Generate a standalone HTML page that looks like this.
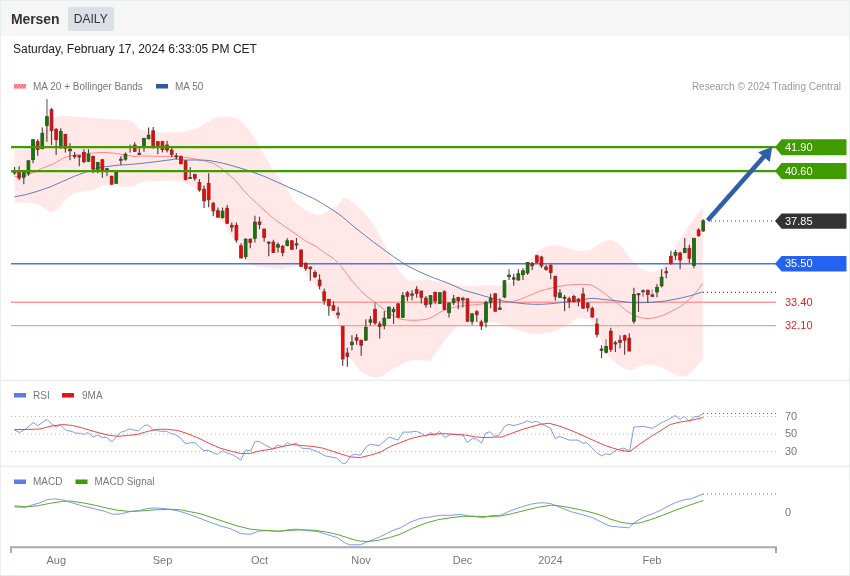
<!DOCTYPE html>
<html lang="en"><head><meta charset="utf-8"><title>Mersen - Daily</title>
<style>
html,body{margin:0;padding:0;background:#fff;}
body{width:850px;height:576px;overflow:hidden;position:relative;font-family:"Liberation Sans",Arial,sans-serif;}
.frame{position:absolute;left:0;top:0;width:848px;height:574px;border:1px solid #e9edf1;background:#fff;}
.header{position:absolute;left:1px;top:1px;width:848px;height:35px;background:#f6f6f6;}
.title{position:absolute;left:11px;top:11px;font-size:14px;font-weight:bold;color:#333;line-height:17px;letter-spacing:-0.1px;}
.badge{position:absolute;left:68px;top:7px;width:45.5px;height:24px;background:#dcdfe6;border-radius:2px;color:#333;font-size:12px;line-height:24px;text-align:center;}
.date{position:absolute;left:13px;top:42px;font-size:12px;line-height:14px;color:#222;white-space:nowrap;}
svg{position:absolute;left:0;top:0;will-change:transform;}
.title,.badge,.date{will-change:transform;}
svg text{font-family:"Liberation Sans",Arial,sans-serif;}
.lg{font-size:10px;fill:#777;}
.ax{font-size:11px;fill:#777;}
.fl{font-size:11px;fill:#fff;}
.rd{font-size:11px;fill:#ee2020;}
</style></head><body>
<div class="frame"></div>
<div class="header"></div>
<div class="title">Mersen</div><div class="badge">DAILY</div>
<div class="date">Saturday, February 17, 2024 6:33:05 PM CET</div>
<svg width="850" height="576" viewBox="0 0 850 576">
<rect x="1" y="379" width="848" height="1" fill="#f5f7f9"/><rect x="1" y="380" width="848" height="1" fill="#e9ecf0"/>
<rect x="1" y="465" width="848" height="1" fill="#f5f7f9"/><rect x="1" y="466" width="848" height="1" fill="#e9ecf0"/>
<rect x="14" y="84" width="12" height="4.5" fill="#ff6f7d"/>
<path d="M15.5 88.5 l3 -4.5 M18.5 88.5 l3 -4.5 M21.5 88.5 l3 -4.5 M14 86.3 l1.5 -2.3 M24.5 88.5 l1.5 -2.3" stroke="#ffb3ba" stroke-width="0.9" fill="none"/>
<text class="lg" x="33" y="90">MA 20 + Bollinger Bands</text>
<rect x="156" y="84" width="12" height="4.5" fill="#2f5b9c"/>
<text class="lg" x="175" y="90">MA 50</text>
<text class="lg" x="841" y="90" text-anchor="end" fill="#999" style="fill:#999">Research © 2024 Trading Central</text>
<polygon points="14.6,150.0 25.0,149.3 30.0,147.5 35.0,143.0 40.0,136.0 45.0,128.0 50.0,121.0 55.0,117.2 59.0,116.0 63.0,115.5 75.0,116.5 95.0,118.0 108.0,119.3 120.0,119.5 130.0,120.5 134.0,122.5 138.5,128.0 144.0,130.8 150.0,132.0 158.0,132.3 166.7,132.5 175.0,132.2 183.3,131.7 187.5,130.8 191.7,129.7 196.0,128.3 200.0,126.7 204.0,124.3 208.3,121.7 212.5,119.3 216.7,117.5 221.0,116.8 225.0,116.6 229.0,116.8 233.3,117.5 238.3,120.0 243.3,123.3 248.3,129.2 253.3,136.7 258.3,145.0 263.3,153.3 268.3,161.7 273.3,170.0 278.3,177.0 283.3,183.3 287.5,189.3 292.0,199.2 297.0,203.5 302.0,207.5 307.0,210.8 312.0,213.3 317.8,215.0 322.0,214.0 325.3,212.5 329.0,210.0 332.0,208.0 335.0,206.8 337.8,205.8 340.3,201.7 342.8,198.5 345.0,198.0 347.0,198.3 349.5,200.0 352.0,202.0 358.7,207.5 365.3,213.3 370.3,220.0 375.3,228.0 380.3,237.5 385.3,245.8 390.3,255.8 395.3,264.2 400.3,272.5 405.3,278.0 410.3,280.8 417.0,280.2 423.7,279.5 428.0,279.8 433.0,280.6 440.0,281.7 453.3,284.3 463.3,285.8 470.0,286.0 477.0,286.3 485.3,285.0 493.5,285.4 500.6,286.2 505.0,284.8 509.0,283.0 513.5,280.7 518.2,277.2 522.9,271.3 526.5,265.4 528.8,261.3 533.5,255.4 538.2,250.7 542.9,247.8 550.0,245.4 554.7,245.2 561.8,246.6 570.0,248.7 573.3,250.3 578.0,251.2 585.0,250.8 590.0,250.0 593.3,248.3 598.0,244.8 603.3,241.7 608.0,240.3 611.7,240.0 616.0,242.0 620.0,245.0 625.0,251.0 630.0,258.3 635.0,263.5 640.0,268.2 646.7,271.6 652.0,272.1 656.7,271.0 662.0,267.5 666.7,261.7 671.0,254.5 676.7,245.0 681.0,237.5 686.7,228.3 692.0,221.0 696.7,215.0 702.8,207.5 702.8,359.0 698.0,364.5 693.3,370.0 688.0,374.8 683.3,376.7 678.0,375.8 672.0,373.0 667.0,370.0 662.0,367.3 657.0,365.8 652.0,364.8 647.0,364.6 642.0,365.3 637.0,367.5 632.0,369.8 628.0,370.0 623.7,368.6 618.5,365.0 613.7,361.0 609.0,357.0 605.3,351.5 602.0,343.5 599.5,336.0 597.0,329.0 594.5,323.5 592.0,320.5 588.7,319.0 583.3,318.3 578.0,318.6 573.3,320.0 571.7,323.3 568.3,324.2 565.0,325.8 561.7,327.5 556.7,330.8 550.0,332.5 545.0,333.2 540.0,333.7 531.7,333.7 523.3,331.7 518.0,330.0 513.3,328.3 508.0,326.0 503.3,324.2 498.0,323.0 493.3,322.5 486.7,322.8 480.0,323.3 471.7,324.2 463.3,325.8 460.0,326.3 456.7,327.5 453.5,330.5 450.0,334.2 445.0,340.3 440.0,346.7 436.7,351.5 433.3,356.5 430.0,360.8 426.7,360.8 420.0,360.3 413.3,360.0 407.0,361.8 400.0,365.0 393.0,369.0 386.7,373.3 382.0,376.5 376.7,377.7 372.0,377.0 366.7,375.0 361.3,371.8 356.7,366.7 353.0,362.0 350.0,358.3 347.5,356.0 345.0,352.0 343.0,346.0 341.0,336.0 339.0,326.0 337.0,320.0 334.0,316.0 331.0,312.5 328.0,308.0 325.0,301.5 322.0,295.0 319.0,289.5 316.0,286.0 312.0,281.0 308.0,275.5 304.0,271.0 301.0,267.5 298.0,266.0 293.3,266.7 286.7,268.0 280.0,269.3 275.0,268.8 266.7,267.7 256.7,266.3 250.0,264.5 246.7,261.2 244.0,257.5 241.7,253.7 239.5,249.3 237.5,245.3 235.5,242.0 233.3,238.7 230.8,235.5 228.3,232.0 226.7,228.5 225.0,225.3 223.5,223.0 221.7,221.2 219.0,219.3 216.7,217.0 214.0,213.8 211.7,210.3 209.0,206.0 206.7,202.0 204.0,197.5 201.7,193.7 199.5,191.0 196.7,188.7 192.5,186.4 188.3,184.5 184.0,182.6 180.0,181.2 175.0,180.5 165.0,180.8 155.0,181.3 147.0,181.6 140.0,182.5 138.0,184.0 135.0,186.3 130.0,187.0 125.0,187.0 119.0,186.3 112.5,185.5 106.0,185.6 100.0,186.3 98.0,187.5 95.0,189.5 90.0,190.5 85.0,191.3 80.0,192.0 75.0,193.0 70.0,195.8 65.0,200.0 62.0,204.0 58.8,207.5 55.0,210.8 51.3,212.0 48.0,211.0 45.0,209.0 42.0,206.8 37.5,204.5 32.0,203.3 25.0,202.5 14.6,203.0" fill="#ffe8e7"/>
<line x1="11" y1="302.3" x2="776" y2="302.3" stroke="#ff9a9a" stroke-width="1.4"/>
<line x1="11" y1="325.6" x2="776" y2="325.6" stroke="#ff9a9a" stroke-width="1.4"/>
<line x1="11" y1="263.7" x2="778" y2="263.7" stroke="#4577f1" stroke-width="1.6"/>
<path d="M14.6 176.6 L20.0 176.4 L28.0 174.7 L35.0 172.0 L41.3 168.6 L48.0 166.0 L53.0 164.0 L58.0 161.3 L62.0 159.0 L66.0 157.0 L70.0 155.9 L75.0 155.0 L82.0 154.0 L90.0 153.2 L98.0 152.7 L106.0 152.5 L112.0 153.0 L120.0 154.0 L128.0 155.5 L134.0 156.6 L140.0 156.0 L146.0 156.0 L152.0 156.2 L160.0 156.4 L170.0 156.6 L180.0 157.0 L188.0 157.8 L196.7 159.3 L205.0 161.0 L213.3 163.3 L218.0 166.0 L223.3 170.0 L228.0 174.0 L233.3 178.3 L238.0 183.5 L243.3 190.0 L250.0 197.0 L256.7 203.3 L265.0 211.0 L273.3 218.3 L282.0 224.5 L290.0 230.0 L298.0 235.5 L306.7 241.7 L316.7 246.7 L323.3 252.0 L333.3 258.3 L340.0 265.0 L345.0 271.5 L350.0 278.3 L356.0 285.5 L363.3 293.3 L369.0 298.0 L375.0 302.3 L381.0 307.0 L386.7 311.7 L392.0 315.0 L396.7 317.7 L401.0 319.3 L406.7 320.0 L413.0 320.3 L420.0 320.0 L425.0 319.5 L430.0 318.3 L435.0 315.5 L440.0 312.3 L445.0 310.0 L450.0 308.3 L455.0 307.0 L460.0 306.0 L466.0 305.3 L473.3 305.0 L480.0 304.2 L486.7 303.3 L493.0 302.8 L500.0 302.3 L507.0 302.2 L513.3 301.3 L520.0 299.3 L526.7 296.5 L533.0 294.0 L540.0 291.0 L546.7 289.3 L553.3 287.5 L560.0 286.2 L566.7 285.0 L572.0 284.8 L580.0 284.3 L586.0 284.5 L590.3 284.9 L593.5 286.0 L597.0 288.2 L601.0 291.0 L605.3 294.0 L610.0 297.6 L615.3 301.5 L620.0 305.5 L625.3 309.8 L630.0 313.0 L635.3 316.0 L640.0 317.5 L643.7 318.2 L648.0 318.5 L652.0 318.2 L657.0 317.2 L662.0 315.7 L667.0 313.6 L672.0 311.0 L676.0 309.0 L680.3 306.5 L684.5 303.5 L688.7 299.8 L692.0 296.8 L695.3 293.2 L699.0 288.5 L702.8 283.5" fill="none" stroke="#ff8a8a" stroke-width="1"/>
<path d="M14.6 196.8 L25.0 194.8 L37.5 191.3 L50.0 187.0 L62.5 181.5 L75.0 176.0 L87.5 171.5 L95.0 169.0 L100.0 167.6 L105.0 166.7 L110.0 166.2 L116.0 165.3 L125.0 164.8 L135.0 164.0 L145.0 163.0 L155.0 161.8 L165.0 160.5 L172.0 159.6 L176.5 158.8 L180.0 159.5 L185.0 160.0 L196.7 160.0 L205.0 160.2 L210.0 160.7 L216.0 161.8 L223.3 163.3 L235.0 166.5 L246.7 170.0 L255.0 173.0 L263.3 176.0 L271.5 179.5 L280.0 183.3 L288.0 187.0 L296.7 190.7 L305.0 194.5 L313.3 198.3 L321.5 203.0 L330.0 208.3 L335.0 211.5 L340.0 215.0 L346.7 220.5 L353.3 226.2 L360.0 231.5 L366.7 236.8 L373.5 242.0 L380.0 246.8 L386.7 251.8 L393.3 256.5 L400.0 261.0 L406.7 265.5 L413.3 268.8 L420.0 272.0 L426.7 275.0 L433.3 277.7 L441.5 280.7 L450.0 284.0 L458.0 287.5 L463.3 290.0 L470.0 292.0 L476.0 293.6 L483.3 295.8 L491.5 298.0 L500.0 300.3 L508.0 301.9 L516.7 302.9 L525.0 303.8 L533.3 304.3 L541.5 304.3 L550.0 303.8 L558.0 302.9 L566.7 302.0 L572.0 301.5 L577.0 300.7 L582.0 299.8 L587.0 298.9 L592.0 298.3 L597.0 298.7 L602.0 299.3 L607.0 299.8 L612.0 300.3 L617.0 300.9 L622.0 301.5 L626.0 302.1 L630.3 302.6 L636.0 302.8 L642.0 302.7 L647.0 302.5 L652.0 302.3 L657.0 301.9 L662.0 301.4 L667.0 300.7 L672.0 299.8 L677.0 298.8 L682.0 297.8 L687.0 296.6 L692.0 295.3 L697.0 293.7 L702.8 291.8" fill="none" stroke="#4f74b3" stroke-width="0.9"/>
<line x1="14.55" y1="167.0" x2="14.55" y2="175.0" stroke="#5a3c3c" stroke-width="1.15"/>
<rect x="13.15" y="170.8" width="2.8" height="2.2" fill="#088008" stroke="#34481f" stroke-width="0.8"/>
<line x1="19.17" y1="166.3" x2="19.17" y2="180.3" stroke="#5a3c3c" stroke-width="1.15"/>
<rect x="17.77" y="172.2" width="2.8" height="5.8" fill="#ff0000" stroke="#7e2c2c" stroke-width="0.8"/>
<line x1="23.79" y1="169.7" x2="23.79" y2="184.2" stroke="#5a3c3c" stroke-width="1.15"/>
<rect x="22.39" y="171.7" width="2.8" height="5.5" fill="#088008" stroke="#34481f" stroke-width="0.8"/>
<line x1="28.42" y1="160.3" x2="28.42" y2="175.8" stroke="#5a3c3c" stroke-width="1.15"/>
<rect x="27.02" y="160.8" width="2.8" height="12.5" fill="#088008" stroke="#34481f" stroke-width="0.8"/>
<line x1="33.04" y1="139.2" x2="33.04" y2="163.3" stroke="#5a3c3c" stroke-width="1.15"/>
<rect x="31.64" y="139.7" width="2.8" height="20.0" fill="#088008" stroke="#34481f" stroke-width="0.8"/>
<line x1="37.66" y1="139.2" x2="37.66" y2="155.8" stroke="#5a3c3c" stroke-width="1.15"/>
<rect x="36.26" y="141.7" width="2.8" height="8.0" fill="#ff0000" stroke="#7e2c2c" stroke-width="0.8"/>
<line x1="42.28" y1="127.5" x2="42.28" y2="149.2" stroke="#5a3c3c" stroke-width="1.15"/>
<rect x="40.88" y="133.3" width="2.8" height="15.4" fill="#088008" stroke="#34481f" stroke-width="0.8"/>
<line x1="46.90" y1="99.2" x2="46.90" y2="141.7" stroke="#5a3c3c" stroke-width="1.15"/>
<line x1="46.90" y1="99.2" x2="46.90" y2="116.7" stroke="#b4b0b0" stroke-width="1.3"/>
<rect x="45.50" y="116.7" width="2.8" height="8.8" fill="#088008" stroke="#34481f" stroke-width="0.8"/>
<line x1="51.53" y1="108.0" x2="51.53" y2="145.0" stroke="#5a3c3c" stroke-width="1.15"/>
<rect x="50.13" y="109.7" width="2.8" height="20.8" fill="#ff0000" stroke="#7e2c2c" stroke-width="0.8"/>
<line x1="56.15" y1="128.3" x2="56.15" y2="155.0" stroke="#5a3c3c" stroke-width="1.15"/>
<rect x="54.75" y="129.2" width="2.8" height="10.5" fill="#ff0000" stroke="#7e2c2c" stroke-width="0.8"/>
<line x1="60.77" y1="128.3" x2="60.77" y2="148.3" stroke="#5a3c3c" stroke-width="1.15"/>
<rect x="59.37" y="131.3" width="2.8" height="16.7" fill="#088008" stroke="#34481f" stroke-width="0.8"/>
<line x1="65.39" y1="133.7" x2="65.39" y2="152.5" stroke="#5a3c3c" stroke-width="1.15"/>
<rect x="63.99" y="134.5" width="2.8" height="13.8" fill="#ff0000" stroke="#7e2c2c" stroke-width="0.8"/>
<line x1="70.01" y1="143.3" x2="70.01" y2="160.3" stroke="#5a3c3c" stroke-width="1.15"/>
<rect x="68.61" y="149.2" width="2.8" height="1.6" fill="#5a3a30" stroke="#5a3a30" stroke-width="0.8"/>
<line x1="74.64" y1="152.0" x2="74.64" y2="158.7" stroke="#5a3c3c" stroke-width="1.15"/>
<rect x="73.24" y="155.5" width="2.8" height="1.2" fill="#5a3a30" stroke="#5a3a30" stroke-width="0.8"/>
<line x1="79.26" y1="155.0" x2="79.26" y2="166.3" stroke="#5a3c3c" stroke-width="1.15"/>
<rect x="77.86" y="155.8" width="2.8" height="1.2" fill="#5a3a30" stroke="#5a3a30" stroke-width="0.8"/>
<line x1="83.88" y1="149.2" x2="83.88" y2="163.3" stroke="#5a3c3c" stroke-width="1.15"/>
<rect x="82.48" y="152.5" width="2.8" height="9.2" fill="#ff0000" stroke="#7e2c2c" stroke-width="0.8"/>
<line x1="88.50" y1="149.2" x2="88.50" y2="161.7" stroke="#5a3c3c" stroke-width="1.15"/>
<rect x="87.10" y="154.2" width="2.8" height="7.1" fill="#088008" stroke="#34481f" stroke-width="0.8"/>
<line x1="93.12" y1="155.8" x2="93.12" y2="173.3" stroke="#5a3c3c" stroke-width="1.15"/>
<rect x="91.72" y="156.3" width="2.8" height="12.5" fill="#ff0000" stroke="#7e2c2c" stroke-width="0.8"/>
<line x1="97.75" y1="162.2" x2="97.75" y2="173.3" stroke="#5a3c3c" stroke-width="1.15"/>
<rect x="96.35" y="162.5" width="2.8" height="6.7" fill="#088008" stroke="#34481f" stroke-width="0.8"/>
<line x1="102.37" y1="159.2" x2="102.37" y2="177.8" stroke="#5a3c3c" stroke-width="1.15"/>
<rect x="100.97" y="159.7" width="2.8" height="10.3" fill="#ff0000" stroke="#7e2c2c" stroke-width="0.8"/>
<line x1="106.99" y1="168.3" x2="106.99" y2="176.2" stroke="#5a3c3c" stroke-width="1.15"/>
<rect x="105.59" y="168.7" width="2.8" height="1.0" fill="#5a3a30" stroke="#5a3a30" stroke-width="0.8"/>
<line x1="111.61" y1="175.7" x2="111.61" y2="184.7" stroke="#5a3c3c" stroke-width="1.15"/>
<rect x="110.21" y="176.2" width="2.8" height="8.0" fill="#ff0000" stroke="#7e2c2c" stroke-width="0.8"/>
<line x1="116.23" y1="172.0" x2="116.23" y2="183.8" stroke="#5a3c3c" stroke-width="1.15"/>
<rect x="114.83" y="172.5" width="2.8" height="10.8" fill="#088008" stroke="#34481f" stroke-width="0.8"/>
<line x1="120.86" y1="156.3" x2="120.86" y2="165.0" stroke="#5a3c3c" stroke-width="1.15"/>
<rect x="119.46" y="159.2" width="2.8" height="1.1" fill="#5a3a30" stroke="#5a3a30" stroke-width="0.8"/>
<line x1="125.48" y1="152.5" x2="125.48" y2="160.8" stroke="#5a3c3c" stroke-width="1.15"/>
<rect x="124.08" y="154.2" width="2.8" height="5.0" fill="#088008" stroke="#34481f" stroke-width="0.8"/>
<line x1="130.10" y1="144.5" x2="130.10" y2="152.5" stroke="#5a3c3c" stroke-width="1.15"/>
<line x1="134.72" y1="142.2" x2="134.72" y2="152.0" stroke="#5a3c3c" stroke-width="1.15"/>
<rect x="133.32" y="145.0" width="2.8" height="6.3" fill="#ff0000" stroke="#7e2c2c" stroke-width="0.8"/>
<line x1="139.34" y1="148.3" x2="139.34" y2="154.7" stroke="#5a3c3c" stroke-width="1.15"/>
<rect x="137.94" y="153.3" width="2.8" height="1.2" fill="#5a3a30" stroke="#5a3a30" stroke-width="0.8"/>
<line x1="143.97" y1="138.0" x2="143.97" y2="151.7" stroke="#5a3c3c" stroke-width="1.15"/>
<rect x="142.57" y="138.3" width="2.8" height="7.2" fill="#088008" stroke="#34481f" stroke-width="0.8"/>
<line x1="148.59" y1="127.5" x2="148.59" y2="139.2" stroke="#5a3c3c" stroke-width="1.15"/>
<rect x="147.19" y="135.2" width="2.8" height="3.6" fill="#088008" stroke="#34481f" stroke-width="0.8"/>
<line x1="153.21" y1="127.0" x2="153.21" y2="148.7" stroke="#5a3c3c" stroke-width="1.15"/>
<rect x="151.81" y="130.8" width="2.8" height="15.9" fill="#ff0000" stroke="#7e2c2c" stroke-width="0.8"/>
<line x1="157.83" y1="141.3" x2="157.83" y2="154.2" stroke="#5a3c3c" stroke-width="1.15"/>
<rect x="156.43" y="141.7" width="2.8" height="3.8" fill="#ff0000" stroke="#7e2c2c" stroke-width="0.8"/>
<line x1="162.45" y1="140.8" x2="162.45" y2="152.5" stroke="#5a3c3c" stroke-width="1.15"/>
<rect x="161.05" y="141.7" width="2.8" height="8.0" fill="#ff0000" stroke="#7e2c2c" stroke-width="0.8"/>
<line x1="167.08" y1="140.8" x2="167.08" y2="152.5" stroke="#5a3c3c" stroke-width="1.15"/>
<rect x="165.68" y="145.0" width="2.8" height="5.0" fill="#ff0000" stroke="#7e2c2c" stroke-width="0.8"/>
<line x1="171.70" y1="148.3" x2="171.70" y2="157.0" stroke="#5a3c3c" stroke-width="1.15"/>
<rect x="170.30" y="150.0" width="2.8" height="4.7" fill="#ff0000" stroke="#7e2c2c" stroke-width="0.8"/>
<line x1="176.32" y1="153.0" x2="176.32" y2="159.5" stroke="#5a3c3c" stroke-width="1.15"/>
<rect x="174.92" y="155.8" width="2.8" height="1.0" fill="#5a3a30" stroke="#5a3a30" stroke-width="0.8"/>
<line x1="180.94" y1="155.8" x2="180.94" y2="164.5" stroke="#5a3c3c" stroke-width="1.15"/>
<rect x="179.54" y="156.3" width="2.8" height="7.4" fill="#ff0000" stroke="#7e2c2c" stroke-width="0.8"/>
<line x1="185.56" y1="160.3" x2="185.56" y2="180.2" stroke="#5a3c3c" stroke-width="1.15"/>
<rect x="184.16" y="160.8" width="2.8" height="18.9" fill="#ff0000" stroke="#7e2c2c" stroke-width="0.8"/>
<line x1="190.19" y1="167.2" x2="190.19" y2="178.3" stroke="#5a3c3c" stroke-width="1.15"/>
<rect x="188.79" y="177.5" width="2.8" height="1.0" fill="#5a3a30" stroke="#5a3a30" stroke-width="0.8"/>
<line x1="194.81" y1="173.7" x2="194.81" y2="180.8" stroke="#5a3c3c" stroke-width="1.15"/>
<rect x="193.41" y="174.5" width="2.8" height="3.8" fill="#ff0000" stroke="#7e2c2c" stroke-width="0.8"/>
<line x1="199.43" y1="179.2" x2="199.43" y2="191.7" stroke="#5a3c3c" stroke-width="1.15"/>
<rect x="198.03" y="182.5" width="2.8" height="7.5" fill="#ff0000" stroke="#7e2c2c" stroke-width="0.8"/>
<line x1="204.05" y1="185.5" x2="204.05" y2="208.0" stroke="#5a3c3c" stroke-width="1.15"/>
<rect x="202.65" y="189.2" width="2.8" height="11.6" fill="#ff0000" stroke="#7e2c2c" stroke-width="0.8"/>
<line x1="208.67" y1="173.3" x2="208.67" y2="207.2" stroke="#5a3c3c" stroke-width="1.15"/>
<rect x="207.27" y="183.3" width="2.8" height="16.4" fill="#ff0000" stroke="#7e2c2c" stroke-width="0.8"/>
<line x1="213.30" y1="201.7" x2="213.30" y2="216.3" stroke="#5a3c3c" stroke-width="1.15"/>
<rect x="211.90" y="203.3" width="2.8" height="7.5" fill="#ff0000" stroke="#7e2c2c" stroke-width="0.8"/>
<line x1="217.92" y1="207.5" x2="217.92" y2="217.5" stroke="#5a3c3c" stroke-width="1.15"/>
<rect x="216.52" y="210.8" width="2.8" height="6.4" fill="#ff0000" stroke="#7e2c2c" stroke-width="0.8"/>
<line x1="222.54" y1="207.5" x2="222.54" y2="218.3" stroke="#5a3c3c" stroke-width="1.15"/>
<rect x="221.14" y="211.2" width="2.8" height="6.6" fill="#088008" stroke="#34481f" stroke-width="0.8"/>
<line x1="227.16" y1="205.0" x2="227.16" y2="223.7" stroke="#5a3c3c" stroke-width="1.15"/>
<rect x="225.76" y="208.3" width="2.8" height="15.0" fill="#ff0000" stroke="#7e2c2c" stroke-width="0.8"/>
<line x1="231.78" y1="222.5" x2="231.78" y2="231.7" stroke="#5a3c3c" stroke-width="1.15"/>
<rect x="230.38" y="225.3" width="2.8" height="1.7" fill="#ff0000" stroke="#7e2c2c" stroke-width="0.8"/>
<line x1="236.41" y1="222.5" x2="236.41" y2="242.5" stroke="#5a3c3c" stroke-width="1.15"/>
<rect x="235.01" y="225.3" width="2.8" height="14.7" fill="#ff0000" stroke="#7e2c2c" stroke-width="0.8"/>
<line x1="241.03" y1="243.3" x2="241.03" y2="258.3" stroke="#5a3c3c" stroke-width="1.15"/>
<rect x="239.63" y="245.8" width="2.8" height="12.2" fill="#ff0000" stroke="#7e2c2c" stroke-width="0.8"/>
<line x1="245.65" y1="238.3" x2="245.65" y2="259.2" stroke="#5a3c3c" stroke-width="1.15"/>
<rect x="244.25" y="239.2" width="2.8" height="17.5" fill="#088008" stroke="#34481f" stroke-width="0.8"/>
<line x1="250.27" y1="238.3" x2="250.27" y2="248.3" stroke="#5a3c3c" stroke-width="1.15"/>
<rect x="248.87" y="239.2" width="2.8" height="3.3" fill="#ff0000" stroke="#7e2c2c" stroke-width="0.8"/>
<line x1="254.89" y1="215.8" x2="254.89" y2="242.5" stroke="#5a3c3c" stroke-width="1.15"/>
<rect x="253.49" y="222.2" width="2.8" height="16.1" fill="#088008" stroke="#34481f" stroke-width="0.8"/>
<line x1="259.52" y1="216.7" x2="259.52" y2="229.2" stroke="#5a3c3c" stroke-width="1.15"/>
<rect x="258.12" y="222.0" width="2.8" height="2.5" fill="#ff0000" stroke="#7e2c2c" stroke-width="0.8"/>
<line x1="264.14" y1="228.3" x2="264.14" y2="241.7" stroke="#5a3c3c" stroke-width="1.15"/>
<rect x="262.74" y="229.2" width="2.8" height="8.3" fill="#ff0000" stroke="#7e2c2c" stroke-width="0.8"/>
<line x1="268.76" y1="241.7" x2="268.76" y2="256.3" stroke="#5a3c3c" stroke-width="1.15"/>
<rect x="267.36" y="242.0" width="2.8" height="1.2" fill="#5a3a30" stroke="#5a3a30" stroke-width="0.8"/>
<line x1="273.38" y1="239.7" x2="273.38" y2="253.0" stroke="#5a3c3c" stroke-width="1.15"/>
<rect x="271.98" y="242.2" width="2.8" height="10.3" fill="#ff0000" stroke="#7e2c2c" stroke-width="0.8"/>
<line x1="278.00" y1="242.5" x2="278.00" y2="252.5" stroke="#5a3c3c" stroke-width="1.15"/>
<rect x="276.60" y="244.7" width="2.8" height="2.5" fill="#088008" stroke="#34481f" stroke-width="0.8"/>
<line x1="282.63" y1="245.0" x2="282.63" y2="256.3" stroke="#5a3c3c" stroke-width="1.15"/>
<rect x="281.23" y="246.3" width="2.8" height="6.2" fill="#ff0000" stroke="#7e2c2c" stroke-width="0.8"/>
<line x1="287.25" y1="238.3" x2="287.25" y2="246.3" stroke="#5a3c3c" stroke-width="1.15"/>
<rect x="285.85" y="240.8" width="2.8" height="4.7" fill="#088008" stroke="#34481f" stroke-width="0.8"/>
<line x1="291.87" y1="240.3" x2="291.87" y2="249.7" stroke="#5a3c3c" stroke-width="1.15"/>
<rect x="290.47" y="240.8" width="2.8" height="8.4" fill="#ff0000" stroke="#7e2c2c" stroke-width="0.8"/>
<line x1="296.49" y1="238.0" x2="296.49" y2="249.2" stroke="#5a3c3c" stroke-width="1.15"/>
<rect x="295.09" y="243.8" width="2.8" height="1.2" fill="#5a3a30" stroke="#5a3a30" stroke-width="0.8"/>
<line x1="301.11" y1="249.5" x2="301.11" y2="266.8" stroke="#5a3c3c" stroke-width="1.15"/>
<rect x="299.71" y="250.0" width="2.8" height="16.3" fill="#ff0000" stroke="#7e2c2c" stroke-width="0.8"/>
<line x1="305.74" y1="262.2" x2="305.74" y2="270.8" stroke="#5a3c3c" stroke-width="1.15"/>
<rect x="304.34" y="263.3" width="2.8" height="5.0" fill="#ff0000" stroke="#7e2c2c" stroke-width="0.8"/>
<line x1="310.36" y1="266.7" x2="310.36" y2="280.8" stroke="#5a3c3c" stroke-width="1.15"/>
<rect x="308.96" y="267.0" width="2.8" height="1.8" fill="#ff0000" stroke="#7e2c2c" stroke-width="0.8"/>
<line x1="314.98" y1="270.3" x2="314.98" y2="278.3" stroke="#5a3c3c" stroke-width="1.15"/>
<rect x="313.58" y="272.5" width="2.8" height="4.2" fill="#ff0000" stroke="#7e2c2c" stroke-width="0.8"/>
<line x1="319.60" y1="274.2" x2="319.60" y2="289.2" stroke="#5a3c3c" stroke-width="1.15"/>
<rect x="318.20" y="280.0" width="2.8" height="5.8" fill="#ff0000" stroke="#7e2c2c" stroke-width="0.8"/>
<line x1="324.22" y1="288.5" x2="324.22" y2="304.7" stroke="#5a3c3c" stroke-width="1.15"/>
<rect x="322.82" y="291.8" width="2.8" height="8.9" fill="#ff0000" stroke="#7e2c2c" stroke-width="0.8"/>
<line x1="328.85" y1="299.0" x2="328.85" y2="315.7" stroke="#5a3c3c" stroke-width="1.15"/>
<rect x="327.45" y="299.3" width="2.8" height="6.4" fill="#ff0000" stroke="#7e2c2c" stroke-width="0.8"/>
<line x1="333.47" y1="301.3" x2="333.47" y2="311.0" stroke="#5a3c3c" stroke-width="1.15"/>
<rect x="332.07" y="305.7" width="2.8" height="4.5" fill="#ff0000" stroke="#7e2c2c" stroke-width="0.8"/>
<line x1="338.09" y1="306.8" x2="338.09" y2="318.5" stroke="#5a3c3c" stroke-width="1.15"/>
<rect x="336.69" y="313.0" width="2.8" height="1.8" fill="#ff0000" stroke="#7e2c2c" stroke-width="0.8"/>
<line x1="342.71" y1="326.0" x2="342.71" y2="365.7" stroke="#5a3c3c" stroke-width="1.15"/>
<rect x="341.31" y="326.3" width="2.8" height="32.7" fill="#ff0000" stroke="#7e2c2c" stroke-width="0.8"/>
<line x1="347.33" y1="347.7" x2="347.33" y2="366.8" stroke="#5a3c3c" stroke-width="1.15"/>
<rect x="345.93" y="353.0" width="2.8" height="3.5" fill="#ff0000" stroke="#7e2c2c" stroke-width="0.8"/>
<line x1="351.96" y1="335.2" x2="351.96" y2="350.2" stroke="#5a3c3c" stroke-width="1.15"/>
<rect x="350.56" y="342.2" width="2.8" height="2.5" fill="#088008" stroke="#34481f" stroke-width="0.8"/>
<line x1="356.58" y1="334.0" x2="356.58" y2="344.7" stroke="#5a3c3c" stroke-width="1.15"/>
<rect x="355.18" y="337.7" width="2.8" height="2.5" fill="#ff0000" stroke="#7e2c2c" stroke-width="0.8"/>
<line x1="361.20" y1="339.8" x2="361.20" y2="355.7" stroke="#5a3c3c" stroke-width="1.15"/>
<rect x="359.80" y="340.2" width="2.8" height="5.0" fill="#ff0000" stroke="#7e2c2c" stroke-width="0.8"/>
<line x1="365.82" y1="319.3" x2="365.82" y2="340.7" stroke="#5a3c3c" stroke-width="1.15"/>
<rect x="364.42" y="327.3" width="2.8" height="12.9" fill="#088008" stroke="#34481f" stroke-width="0.8"/>
<line x1="370.44" y1="316.0" x2="370.44" y2="325.5" stroke="#5a3c3c" stroke-width="1.15"/>
<rect x="369.04" y="319.8" width="2.8" height="2.4" fill="#088008" stroke="#34481f" stroke-width="0.8"/>
<line x1="375.07" y1="302.3" x2="375.07" y2="324.7" stroke="#5a3c3c" stroke-width="1.15"/>
<line x1="375.07" y1="302.3" x2="375.07" y2="309.3" stroke="#b4b0b0" stroke-width="1.3"/>
<rect x="373.67" y="309.3" width="2.8" height="13.7" fill="#ff0000" stroke="#7e2c2c" stroke-width="0.8"/>
<line x1="379.69" y1="321.3" x2="379.69" y2="338.5" stroke="#5a3c3c" stroke-width="1.15"/>
<rect x="378.29" y="324.0" width="2.8" height="2.5" fill="#ff0000" stroke="#7e2c2c" stroke-width="0.8"/>
<line x1="384.31" y1="311.0" x2="384.31" y2="329.3" stroke="#5a3c3c" stroke-width="1.15"/>
<rect x="382.91" y="318.2" width="2.8" height="7.3" fill="#088008" stroke="#34481f" stroke-width="0.8"/>
<line x1="388.93" y1="306.3" x2="388.93" y2="318.5" stroke="#5a3c3c" stroke-width="1.15"/>
<rect x="387.53" y="307.2" width="2.8" height="11.0" fill="#088008" stroke="#34481f" stroke-width="0.8"/>
<line x1="393.55" y1="306.8" x2="393.55" y2="324.0" stroke="#5a3c3c" stroke-width="1.15"/>
<rect x="392.15" y="309.3" width="2.8" height="2.5" fill="#088008" stroke="#34481f" stroke-width="0.8"/>
<line x1="398.18" y1="303.3" x2="398.18" y2="317.8" stroke="#5a3c3c" stroke-width="1.15"/>
<rect x="396.78" y="303.8" width="2.8" height="13.5" fill="#ff0000" stroke="#7e2c2c" stroke-width="0.8"/>
<line x1="402.80" y1="292.3" x2="402.80" y2="317.7" stroke="#5a3c3c" stroke-width="1.15"/>
<rect x="401.40" y="295.7" width="2.8" height="21.6" fill="#088008" stroke="#34481f" stroke-width="0.8"/>
<line x1="407.42" y1="291.0" x2="407.42" y2="301.0" stroke="#5a3c3c" stroke-width="1.15"/>
<rect x="406.02" y="292.7" width="2.8" height="3.6" fill="#ff0000" stroke="#7e2c2c" stroke-width="0.8"/>
<line x1="412.04" y1="290.2" x2="412.04" y2="300.2" stroke="#5a3c3c" stroke-width="1.15"/>
<rect x="410.64" y="294.0" width="2.8" height="1.2" fill="#5a3a30" stroke="#5a3a30" stroke-width="0.8"/>
<line x1="416.66" y1="286.3" x2="416.66" y2="297.7" stroke="#5a3c3c" stroke-width="1.15"/>
<rect x="415.26" y="289.3" width="2.8" height="4.2" fill="#ff0000" stroke="#7e2c2c" stroke-width="0.8"/>
<line x1="421.29" y1="290.7" x2="421.29" y2="303.5" stroke="#5a3c3c" stroke-width="1.15"/>
<rect x="419.89" y="291.0" width="2.8" height="6.3" fill="#ff0000" stroke="#7e2c2c" stroke-width="0.8"/>
<line x1="425.91" y1="296.0" x2="425.91" y2="307.7" stroke="#5a3c3c" stroke-width="1.15"/>
<rect x="424.51" y="298.2" width="2.8" height="6.5" fill="#ff0000" stroke="#7e2c2c" stroke-width="0.8"/>
<line x1="430.53" y1="295.2" x2="430.53" y2="307.7" stroke="#5a3c3c" stroke-width="1.15"/>
<rect x="429.13" y="295.7" width="2.8" height="8.3" fill="#088008" stroke="#34481f" stroke-width="0.8"/>
<line x1="435.15" y1="291.8" x2="435.15" y2="304.3" stroke="#5a3c3c" stroke-width="1.15"/>
<rect x="433.75" y="292.2" width="2.8" height="8.8" fill="#ff0000" stroke="#7e2c2c" stroke-width="0.8"/>
<line x1="439.77" y1="292.2" x2="439.77" y2="304.0" stroke="#5a3c3c" stroke-width="1.15"/>
<rect x="438.37" y="292.7" width="2.8" height="10.8" fill="#088008" stroke="#34481f" stroke-width="0.8"/>
<line x1="444.40" y1="290.2" x2="444.40" y2="310.2" stroke="#5a3c3c" stroke-width="1.15"/>
<rect x="443.00" y="291.8" width="2.8" height="17.5" fill="#ff0000" stroke="#7e2c2c" stroke-width="0.8"/>
<line x1="449.02" y1="302.5" x2="449.02" y2="317.5" stroke="#5a3c3c" stroke-width="1.15"/>
<rect x="447.62" y="303.0" width="2.8" height="9.7" fill="#088008" stroke="#34481f" stroke-width="0.8"/>
<line x1="453.64" y1="295.0" x2="453.64" y2="305.0" stroke="#5a3c3c" stroke-width="1.15"/>
<rect x="452.24" y="298.8" width="2.8" height="4.0" fill="#088008" stroke="#34481f" stroke-width="0.8"/>
<line x1="458.26" y1="296.7" x2="458.26" y2="309.2" stroke="#5a3c3c" stroke-width="1.15"/>
<rect x="456.86" y="297.5" width="2.8" height="3.3" fill="#ff0000" stroke="#7e2c2c" stroke-width="0.8"/>
<line x1="462.88" y1="296.7" x2="462.88" y2="307.5" stroke="#5a3c3c" stroke-width="1.15"/>
<rect x="461.48" y="298.3" width="2.8" height="1.7" fill="#ff0000" stroke="#7e2c2c" stroke-width="0.8"/>
<line x1="467.51" y1="298.3" x2="467.51" y2="321.7" stroke="#5a3c3c" stroke-width="1.15"/>
<rect x="466.11" y="298.8" width="2.8" height="22.4" fill="#ff0000" stroke="#7e2c2c" stroke-width="0.8"/>
<line x1="472.13" y1="313.3" x2="472.13" y2="324.7" stroke="#5a3c3c" stroke-width="1.15"/>
<rect x="470.73" y="313.8" width="2.8" height="7.5" fill="#088008" stroke="#34481f" stroke-width="0.8"/>
<line x1="476.75" y1="310.0" x2="476.75" y2="321.7" stroke="#5a3c3c" stroke-width="1.15"/>
<rect x="475.35" y="311.7" width="2.8" height="3.0" fill="#ff0000" stroke="#7e2c2c" stroke-width="0.8"/>
<line x1="481.37" y1="319.7" x2="481.37" y2="330.0" stroke="#5a3c3c" stroke-width="1.15"/>
<rect x="479.97" y="322.0" width="2.8" height="3.8" fill="#ff0000" stroke="#7e2c2c" stroke-width="0.8"/>
<line x1="485.99" y1="300.8" x2="485.99" y2="327.5" stroke="#5a3c3c" stroke-width="1.15"/>
<rect x="484.59" y="302.5" width="2.8" height="19.5" fill="#088008" stroke="#34481f" stroke-width="0.8"/>
<line x1="490.62" y1="293.8" x2="490.62" y2="308.3" stroke="#5a3c3c" stroke-width="1.15"/>
<rect x="489.22" y="298.3" width="2.8" height="4.2" fill="#088008" stroke="#34481f" stroke-width="0.8"/>
<line x1="495.24" y1="293.3" x2="495.24" y2="311.7" stroke="#5a3c3c" stroke-width="1.15"/>
<rect x="493.84" y="293.8" width="2.8" height="17.4" fill="#ff0000" stroke="#7e2c2c" stroke-width="0.8"/>
<line x1="499.86" y1="298.3" x2="499.86" y2="309.7" stroke="#5a3c3c" stroke-width="1.15"/>
<rect x="498.46" y="308.0" width="2.8" height="1.3" fill="#5a3a30" stroke="#5a3a30" stroke-width="0.8"/>
<line x1="504.48" y1="280.0" x2="504.48" y2="298.3" stroke="#5a3c3c" stroke-width="1.15"/>
<rect x="503.08" y="280.8" width="2.8" height="16.2" fill="#088008" stroke="#34481f" stroke-width="0.8"/>
<line x1="509.10" y1="269.2" x2="509.10" y2="280.0" stroke="#5a3c3c" stroke-width="1.15"/>
<line x1="509.10" y1="269.2" x2="509.10" y2="275.0" stroke="#b4b0b0" stroke-width="1.3"/>
<rect x="507.70" y="275.0" width="2.8" height="1.7" fill="#088008" stroke="#34481f" stroke-width="0.8"/>
<line x1="513.73" y1="273.7" x2="513.73" y2="285.8" stroke="#5a3c3c" stroke-width="1.15"/>
<rect x="512.33" y="277.8" width="2.8" height="1.4" fill="#5a3a30" stroke="#5a3a30" stroke-width="0.8"/>
<line x1="518.35" y1="269.2" x2="518.35" y2="280.5" stroke="#5a3c3c" stroke-width="1.15"/>
<rect x="516.95" y="273.7" width="2.8" height="6.3" fill="#088008" stroke="#34481f" stroke-width="0.8"/>
<line x1="522.97" y1="268.3" x2="522.97" y2="280.0" stroke="#5a3c3c" stroke-width="1.15"/>
<rect x="521.57" y="270.8" width="2.8" height="3.9" fill="#088008" stroke="#34481f" stroke-width="0.8"/>
<line x1="527.59" y1="262.0" x2="527.59" y2="274.7" stroke="#5a3c3c" stroke-width="1.15"/>
<rect x="526.19" y="262.5" width="2.8" height="10.5" fill="#088008" stroke="#34481f" stroke-width="0.8"/>
<line x1="532.21" y1="262.0" x2="532.21" y2="270.0" stroke="#5a3c3c" stroke-width="1.15"/>
<rect x="530.81" y="263.7" width="2.8" height="2.1" fill="#ff0000" stroke="#7e2c2c" stroke-width="0.8"/>
<line x1="536.84" y1="254.7" x2="536.84" y2="263.0" stroke="#5a3c3c" stroke-width="1.15"/>
<rect x="535.44" y="255.8" width="2.8" height="6.4" fill="#ff0000" stroke="#7e2c2c" stroke-width="0.8"/>
<line x1="541.46" y1="255.8" x2="541.46" y2="268.0" stroke="#5a3c3c" stroke-width="1.15"/>
<rect x="540.06" y="257.0" width="2.8" height="8.8" fill="#ff0000" stroke="#7e2c2c" stroke-width="0.8"/>
<line x1="546.08" y1="265.0" x2="546.08" y2="270.8" stroke="#5a3c3c" stroke-width="1.15"/>
<rect x="544.68" y="267.0" width="2.8" height="2.5" fill="#ff0000" stroke="#7e2c2c" stroke-width="0.8"/>
<line x1="550.70" y1="264.2" x2="550.70" y2="279.2" stroke="#5a3c3c" stroke-width="1.15"/>
<rect x="549.30" y="265.3" width="2.8" height="7.2" fill="#ff0000" stroke="#7e2c2c" stroke-width="0.8"/>
<line x1="555.32" y1="275.8" x2="555.32" y2="300.8" stroke="#5a3c3c" stroke-width="1.15"/>
<rect x="553.92" y="276.3" width="2.8" height="20.0" fill="#ff0000" stroke="#7e2c2c" stroke-width="0.8"/>
<line x1="559.95" y1="289.2" x2="559.95" y2="298.0" stroke="#5a3c3c" stroke-width="1.15"/>
<rect x="558.55" y="293.0" width="2.8" height="4.5" fill="#088008" stroke="#34481f" stroke-width="0.8"/>
<line x1="564.57" y1="295.0" x2="564.57" y2="311.2" stroke="#5a3c3c" stroke-width="1.15"/>
<rect x="563.17" y="297.2" width="2.8" height="1.1" fill="#5a3a30" stroke="#5a3a30" stroke-width="0.8"/>
<line x1="569.19" y1="296.7" x2="569.19" y2="308.3" stroke="#5a3c3c" stroke-width="1.15"/>
<rect x="567.79" y="298.8" width="2.8" height="2.9" fill="#ff0000" stroke="#7e2c2c" stroke-width="0.8"/>
<line x1="573.81" y1="294.7" x2="573.81" y2="302.6" stroke="#5a3c3c" stroke-width="1.15"/>
<rect x="572.41" y="296.4" width="2.8" height="5.2" fill="#ff0000" stroke="#7e2c2c" stroke-width="0.8"/>
<line x1="578.43" y1="298.1" x2="578.43" y2="306.4" stroke="#5a3c3c" stroke-width="1.15"/>
<rect x="577.03" y="299.1" width="2.8" height="2.1" fill="#ff0000" stroke="#7e2c2c" stroke-width="0.8"/>
<line x1="583.06" y1="287.7" x2="583.06" y2="308.7" stroke="#5a3c3c" stroke-width="1.15"/>
<rect x="581.66" y="294.0" width="2.8" height="14.2" fill="#ff0000" stroke="#7e2c2c" stroke-width="0.8"/>
<line x1="587.68" y1="302.3" x2="587.68" y2="311.5" stroke="#5a3c3c" stroke-width="1.15"/>
<rect x="586.28" y="303.2" width="2.8" height="4.5" fill="#ff0000" stroke="#7e2c2c" stroke-width="0.8"/>
<line x1="592.30" y1="306.5" x2="592.30" y2="317.7" stroke="#5a3c3c" stroke-width="1.15"/>
<rect x="590.90" y="308.5" width="2.8" height="8.5" fill="#ff0000" stroke="#7e2c2c" stroke-width="0.8"/>
<line x1="596.92" y1="318.2" x2="596.92" y2="337.3" stroke="#5a3c3c" stroke-width="1.15"/>
<rect x="595.52" y="324.0" width="2.8" height="10.3" fill="#ff0000" stroke="#7e2c2c" stroke-width="0.8"/>
<line x1="601.54" y1="345.3" x2="601.54" y2="358.2" stroke="#5a3c3c" stroke-width="1.15"/>
<rect x="600.14" y="349.0" width="2.8" height="1.3" fill="#5a3a30" stroke="#5a3a30" stroke-width="0.8"/>
<line x1="606.17" y1="339.5" x2="606.17" y2="353.5" stroke="#5a3c3c" stroke-width="1.15"/>
<line x1="606.17" y1="339.5" x2="606.17" y2="346.5" stroke="#b4b0b0" stroke-width="1.3"/>
<rect x="604.77" y="346.5" width="2.8" height="5.8" fill="#088008" stroke="#34481f" stroke-width="0.8"/>
<line x1="610.79" y1="327.7" x2="610.79" y2="352.0" stroke="#5a3c3c" stroke-width="1.15"/>
<rect x="609.39" y="331.2" width="2.8" height="18.1" fill="#ff0000" stroke="#7e2c2c" stroke-width="0.8"/>
<line x1="615.41" y1="340.7" x2="615.41" y2="352.0" stroke="#5a3c3c" stroke-width="1.15"/>
<rect x="614.01" y="342.8" width="2.8" height="1.2" fill="#5a3a30" stroke="#5a3a30" stroke-width="0.8"/>
<line x1="620.03" y1="335.3" x2="620.03" y2="348.2" stroke="#5a3c3c" stroke-width="1.15"/>
<rect x="618.63" y="340.3" width="2.8" height="2.0" fill="#ff0000" stroke="#7e2c2c" stroke-width="0.8"/>
<line x1="624.65" y1="334.8" x2="624.65" y2="354.8" stroke="#5a3c3c" stroke-width="1.15"/>
<rect x="623.25" y="335.7" width="2.8" height="4.5" fill="#ff0000" stroke="#7e2c2c" stroke-width="0.8"/>
<line x1="629.28" y1="333.2" x2="629.28" y2="351.5" stroke="#5a3c3c" stroke-width="1.15"/>
<rect x="627.88" y="338.2" width="2.8" height="12.8" fill="#ff0000" stroke="#7e2c2c" stroke-width="0.8"/>
<line x1="633.90" y1="287.7" x2="633.90" y2="323.7" stroke="#5a3c3c" stroke-width="1.15"/>
<rect x="632.50" y="294.5" width="2.8" height="26.7" fill="#088008" stroke="#34481f" stroke-width="0.8"/>
<line x1="638.52" y1="293.2" x2="638.52" y2="312.0" stroke="#5a3c3c" stroke-width="1.15"/>
<rect x="637.12" y="293.7" width="2.8" height="1.1" fill="#5a3a30" stroke="#5a3a30" stroke-width="0.8"/>
<line x1="643.14" y1="289.3" x2="643.14" y2="296.5" stroke="#5a3c3c" stroke-width="1.15"/>
<line x1="643.14" y1="289.3" x2="643.14" y2="296.5" stroke="#b4b0b0" stroke-width="1.3"/>
<rect x="641.74" y="290.7" width="2.8" height="1.1" fill="#5a3a30" stroke="#5a3a30" stroke-width="0.8"/>
<line x1="647.76" y1="289.8" x2="647.76" y2="302.7" stroke="#5a3c3c" stroke-width="1.15"/>
<rect x="646.36" y="290.2" width="2.8" height="4.3" fill="#ff0000" stroke="#7e2c2c" stroke-width="0.8"/>
<line x1="652.39" y1="289.8" x2="652.39" y2="296.5" stroke="#5a3c3c" stroke-width="1.15"/>
<line x1="652.39" y1="289.8" x2="652.39" y2="294.8" stroke="#b4b0b0" stroke-width="1.3"/>
<rect x="650.99" y="294.8" width="2.8" height="1.7" fill="#ff0000" stroke="#7e2c2c" stroke-width="0.8"/>
<line x1="657.01" y1="284.0" x2="657.01" y2="297.3" stroke="#5a3c3c" stroke-width="1.15"/>
<rect x="655.61" y="287.3" width="2.8" height="4.7" fill="#088008" stroke="#34481f" stroke-width="0.8"/>
<line x1="661.63" y1="269.2" x2="661.63" y2="287.5" stroke="#5a3c3c" stroke-width="1.15"/>
<rect x="660.23" y="277.2" width="2.8" height="8.6" fill="#088008" stroke="#34481f" stroke-width="0.8"/>
<line x1="666.25" y1="267.2" x2="666.25" y2="278.3" stroke="#5a3c3c" stroke-width="1.15"/>
<rect x="664.85" y="271.7" width="2.8" height="1.1" fill="#5a3a30" stroke="#5a3a30" stroke-width="0.8"/>
<line x1="670.87" y1="250.8" x2="670.87" y2="264.7" stroke="#5a3c3c" stroke-width="1.15"/>
<rect x="669.47" y="256.3" width="2.8" height="6.7" fill="#ff0000" stroke="#7e2c2c" stroke-width="0.8"/>
<line x1="675.50" y1="250.0" x2="675.50" y2="260.0" stroke="#5a3c3c" stroke-width="1.15"/>
<rect x="674.10" y="252.5" width="2.8" height="2.8" fill="#088008" stroke="#34481f" stroke-width="0.8"/>
<line x1="680.12" y1="251.7" x2="680.12" y2="269.2" stroke="#5a3c3c" stroke-width="1.15"/>
<rect x="678.72" y="253.0" width="2.8" height="7.0" fill="#ff0000" stroke="#7e2c2c" stroke-width="0.8"/>
<line x1="684.74" y1="238.0" x2="684.74" y2="253.3" stroke="#5a3c3c" stroke-width="1.15"/>
<rect x="683.34" y="248.3" width="2.8" height="4.2" fill="#088008" stroke="#34481f" stroke-width="0.8"/>
<line x1="689.36" y1="244.7" x2="689.36" y2="263.0" stroke="#5a3c3c" stroke-width="1.15"/>
<rect x="687.96" y="248.3" width="2.8" height="10.0" fill="#ff0000" stroke="#7e2c2c" stroke-width="0.8"/>
<line x1="693.98" y1="238.0" x2="693.98" y2="268.3" stroke="#5a3c3c" stroke-width="1.15"/>
<rect x="692.58" y="238.3" width="2.8" height="27.2" fill="#088008" stroke="#34481f" stroke-width="0.8"/>
<line x1="698.61" y1="228.3" x2="698.61" y2="236.7" stroke="#5a3c3c" stroke-width="1.15"/>
<rect x="697.21" y="230.0" width="2.8" height="5.5" fill="#ff0000" stroke="#7e2c2c" stroke-width="0.8"/>
<line x1="703.23" y1="219.2" x2="703.23" y2="232.0" stroke="#5a3c3c" stroke-width="1.15"/>
<rect x="701.83" y="220.8" width="2.8" height="10.0" fill="#088008" stroke="#34481f" stroke-width="0.8"/>
<line x1="11" y1="147.12" x2="778" y2="147.12" stroke="#3f9c00" stroke-width="2.25"/>
<line x1="11" y1="171.1" x2="778" y2="171.1" stroke="#3f9c00" stroke-width="2.25"/>
<line x1="711" y1="221" x2="775" y2="221" stroke="#3a3a3a" stroke-width="1.2" stroke-dasharray="1 3"/>
<line x1="703" y1="292.4" x2="776" y2="292.4" stroke="#2c58a6" stroke-width="1.1" stroke-dasharray="1 3"/>
<line x1="707.6" y1="220.6" x2="764" y2="156.6" stroke="#2f5fa5" stroke-width="4.6"/>
<polygon points="772.2,147 758.2,152.2 769.8,162" fill="#2f5fa5"/>
<path d="M775 147.2 L781.6 139.2 H845.8 Q846.5 139.2 846.5 139.9 V154.5 Q846.5 155.2 845.8 155.2 H781.6 Z" fill="#3f9c00"/>
<text class="fl" x="785" y="151.1">41.90</text>
<path d="M775 171.0 L781.6 163.0 H845.8 Q846.5 163.0 846.5 163.7 V178.3 Q846.5 179.0 845.8 179.0 H781.6 Z" fill="#3f9c00"/>
<text class="fl" x="785" y="174.9">40.60</text>
<path d="M775 221.1 L781.6 213.4 H845.8 Q846.5 213.4 846.5 214.1 V228.1 Q846.5 228.8 845.8 228.8 H781.6 Z" fill="#333333"/>
<text class="fl" x="785" y="225.0">37.85</text>
<path d="M775 263.8 L781.6 256.1 H845.8 Q846.5 256.1 846.5 256.8 V270.8 Q846.5 271.5 845.8 271.5 H781.6 Z" fill="#2463f2"/>
<text class="fl" x="785" y="266.9">35.50</text>
<text class="rd" x="785" y="306">33.40</text>
<text class="rd" x="785" y="329">32.10</text>
<rect x="14" y="393" width="12" height="4.5" fill="#5b7fe0"/>
<text class="lg" x="33" y="399">RSI</text>
<rect x="62" y="393" width="12" height="4.5" fill="#ee1111"/>
<text class="lg" x="82" y="399">9MA</text>
<line x1="11" y1="416.5" x2="776" y2="416.5" stroke="#bcbcbc" stroke-width="1" stroke-dasharray="1 3"/>
<line x1="11" y1="434" x2="776" y2="434" stroke="#bcbcbc" stroke-width="1" stroke-dasharray="1 3"/>
<line x1="11" y1="451.5" x2="776" y2="451.5" stroke="#bcbcbc" stroke-width="1" stroke-dasharray="1 3"/>
<text class="ax" x="785" y="420.2">70</text>
<text class="ax" x="785" y="437">50</text>
<text class="ax" x="785" y="455.2">30</text>
<path d="M14.5 430.0 L19.5 432.5 L25.0 429.5 L33.3 422.5 L37.6 425.8 L46.9 419.3 L51.4 423.8 L56.4 427.0 L60.2 425.0 L65.7 430.0 L72.7 431.8 L75.2 433.0 L80.2 433.3 L84.0 434.5 L87.7 432.5 L93.2 437.0 L97.7 435.0 L102.3 437.5 L106.5 437.5 L112.0 441.8 L120.3 432.5 L125.3 430.8 L129.8 428.8 L134.1 430.0 L138.6 430.8 L144.1 425.5 L148.4 425.0 L152.9 429.5 L160.4 431.3 L166.7 431.3 L170.4 433.3 L175.4 434.5 L180.5 438.0 L185.5 443.8 L191.7 442.5 L195.5 443.0 L200.0 447.6 L203.8 450.6 L208.0 450.1 L212.5 452.6 L217.5 454.4 L222.6 450.6 L227.6 453.4 L232.6 454.6 L240.9 460.1 L245.6 450.1 L250.9 450.6 L255.1 441.3 L258.9 441.3 L265.2 445.1 L272.7 448.9 L277.7 445.1 L282.7 446.9 L287.2 442.6 L291.5 444.6 L296.5 443.1 L301.5 448.1 L310.3 448.9 L317.8 451.9 L325.3 455.9 L336.6 458.1 L342.4 463.4 L345.9 463.1 L351.6 455.1 L355.4 454.4 L360.4 455.1 L366.7 446.4 L370.4 444.3 L379.2 445.6 L389.2 437.1 L398.0 440.1 L403.0 432.1 L410.0 432.1 L416.3 431.3 L421.3 433.3 L425.8 436.3 L430.6 432.6 L435.1 435.1 L439.6 431.3 L444.6 437.6 L450.1 434.6 L462.7 434.6 L467.2 442.6 L472.2 438.8 L476.4 438.8 L481.5 443.1 L485.7 433.1 L490.2 431.8 L494.7 436.3 L499.0 435.1 L505.3 425.6 L509.0 424.5 L514.0 425.6 L522.8 423.0 L527.3 420.8 L531.6 422.5 L536.1 421.3 L541.6 423.8 L550.4 428.1 L555.4 438.8 L559.1 436.3 L569.2 440.1 L577.9 440.1 L583.0 443.3 L586.7 442.6 L591.7 447.6 L596.7 452.6 L601.3 455.9 L605.5 453.9 L610.0 454.5 L616.3 450.1 L623.8 448.1 L629.6 451.4 L633.8 427.1 L642.6 426.3 L652.6 428.3 L662.7 422.0 L667.7 420.0 L675.2 415.5 L680.2 419.5 L684.0 416.3 L689.0 421.3 L694.0 416.8 L699.0 416.3 L703.3 413.3" fill="none" stroke="#7d9bea" stroke-width="1" stroke-linejoin="round"/>
<path d="M14.5 429.5 L25.0 429.5 L40.0 429.0 L50.0 426.3 L62.7 424.5 L72.7 425.5 L82.7 428.0 L95.2 431.8 L107.8 435.0 L117.8 436.3 L127.8 435.5 L137.8 434.3 L147.9 431.3 L157.9 429.3 L167.9 429.3 L177.9 430.5 L188.0 433.8 L200.0 438.8 L210.0 443.8 L220.0 448.1 L230.1 450.9 L240.1 453.4 L250.1 453.4 L260.2 450.9 L272.7 448.9 L282.7 446.4 L292.7 444.6 L302.8 445.6 L312.8 446.4 L322.8 448.1 L332.8 451.4 L342.9 454.6 L350.4 456.9 L360.4 457.6 L370.4 455.1 L380.5 452.1 L390.5 446.4 L400.5 442.6 L410.0 438.8 L420.0 436.3 L430.0 434.6 L442.6 433.6 L455.1 434.3 L465.2 435.1 L475.2 436.8 L485.2 437.6 L495.2 437.1 L501.5 437.1 L510.3 433.8 L520.3 430.1 L530.3 427.1 L540.4 424.3 L549.1 423.3 L557.9 425.6 L570.4 430.1 L583.0 435.6 L595.5 441.3 L605.5 445.6 L613.0 448.1 L620.0 450.1 L629.6 451.6 L640.1 443.8 L650.1 437.1 L660.2 430.8 L670.2 424.5 L680.2 422.0 L690.2 420.5 L703.3 417.5" fill="none" stroke="#f24444" stroke-width="1" stroke-linejoin="round"/>
<line x1="703" y1="413.5" x2="776" y2="413.5" stroke="#4169e1" stroke-width="1" stroke-dasharray="1 3" shape-rendering="crispEdges"/>
<rect x="14" y="479.5" width="12" height="4.5" fill="#5b7fe0"/>
<text class="lg" x="33" y="485.3">MACD</text>
<rect x="75.5" y="479.5" width="12" height="4.5" fill="#3f9c00"/>
<text class="lg" x="94.5" y="485.3">MACD Signal</text>
<path d="M14.5 507.0 L25.0 507.3 L32.6 504.8 L40.1 502.8 L47.6 499.5 L53.9 499.0 L60.2 499.3 L67.7 501.5 L80.2 505.3 L95.2 509.0 L105.3 511.5 L112.8 514.3 L120.3 514.0 L130.3 511.5 L140.4 510.3 L147.9 508.3 L157.9 508.0 L167.9 509.0 L177.9 510.8 L188.0 514.0 L200.0 518.3 L210.0 522.3 L220.0 525.8 L230.1 528.6 L240.9 533.6 L250.1 534.3 L258.9 531.1 L267.7 530.6 L280.2 531.6 L287.7 529.8 L296.5 529.1 L305.3 530.3 L317.8 531.6 L327.8 534.8 L337.8 537.8 L345.4 543.3 L350.4 544.8 L360.4 544.8 L367.9 541.6 L380.5 536.6 L393.0 530.3 L400.5 527.8 L410.0 522.3 L420.0 518.5 L430.0 517.0 L440.1 515.3 L450.1 515.3 L461.4 514.3 L467.7 515.8 L475.2 516.5 L482.7 517.8 L490.2 515.8 L500.3 515.3 L510.3 510.8 L520.3 507.3 L530.3 504.3 L537.8 503.0 L544.1 502.8 L550.4 503.5 L557.9 506.5 L570.4 511.5 L583.0 514.8 L593.0 517.8 L603.0 523.0 L610.0 526.1 L620.0 527.1 L628.8 527.8 L635.1 522.0 L643.9 517.0 L655.1 512.8 L665.2 507.8 L675.2 502.7 L685.2 499.5 L690.2 499.0 L703.3 494.0" fill="none" stroke="#7d9bea" stroke-width="1" stroke-linejoin="round"/>
<path d="M14.5 505.8 L25.0 506.8 L37.6 505.8 L50.1 503.3 L62.7 501.3 L70.2 501.0 L82.7 502.8 L95.2 505.3 L107.8 508.3 L117.8 510.3 L130.3 511.5 L142.9 510.8 L155.4 509.8 L170.4 509.3 L180.5 509.8 L193.0 512.3 L200.0 513.6 L212.5 517.8 L225.1 522.0 L237.6 526.0 L250.1 529.1 L262.7 530.3 L277.7 531.1 L290.2 530.3 L302.8 529.8 L315.3 530.3 L327.8 532.3 L337.8 534.6 L347.9 537.8 L357.9 540.8 L367.9 541.6 L377.9 540.3 L390.5 537.3 L400.0 534.3 L412.5 528.3 L425.1 523.3 L437.6 519.8 L450.1 517.8 L462.7 516.3 L475.2 516.3 L487.7 516.5 L500.3 516.0 L512.8 513.5 L525.3 510.3 L537.8 507.3 L550.4 505.3 L555.4 505.3 L567.9 507.3 L580.5 509.8 L593.0 512.8 L603.0 516.0 L610.0 519.0 L620.0 522.0 L630.1 523.8 L640.1 522.8 L650.1 519.8 L662.7 515.3 L675.2 510.3 L687.7 505.8 L703.3 500.5" fill="none" stroke="#5aa832" stroke-width="1" stroke-linejoin="round"/>
<line x1="703" y1="494" x2="776" y2="494" stroke="#4f74e4" stroke-width="1.1" stroke-dasharray="1 3"/>
<text class="ax" x="785" y="516.2">0</text>
<path d="M11 553 V547.2 H776 V553" fill="none" stroke="#a8a8ae" stroke-width="2"/>
<text class="ax" x="56.3" y="563.6" text-anchor="middle">Aug</text>
<text class="ax" x="162.5" y="563.6" text-anchor="middle">Sep</text>
<text class="ax" x="259.5" y="563.6" text-anchor="middle">Oct</text>
<text class="ax" x="361" y="563.6" text-anchor="middle">Nov</text>
<text class="ax" x="462.6" y="563.6" text-anchor="middle">Dec</text>
<text class="ax" x="550.5" y="563.6" text-anchor="middle">2024</text>
<text class="ax" x="652" y="563.6" text-anchor="middle">Feb</text>
</svg></body></html>
